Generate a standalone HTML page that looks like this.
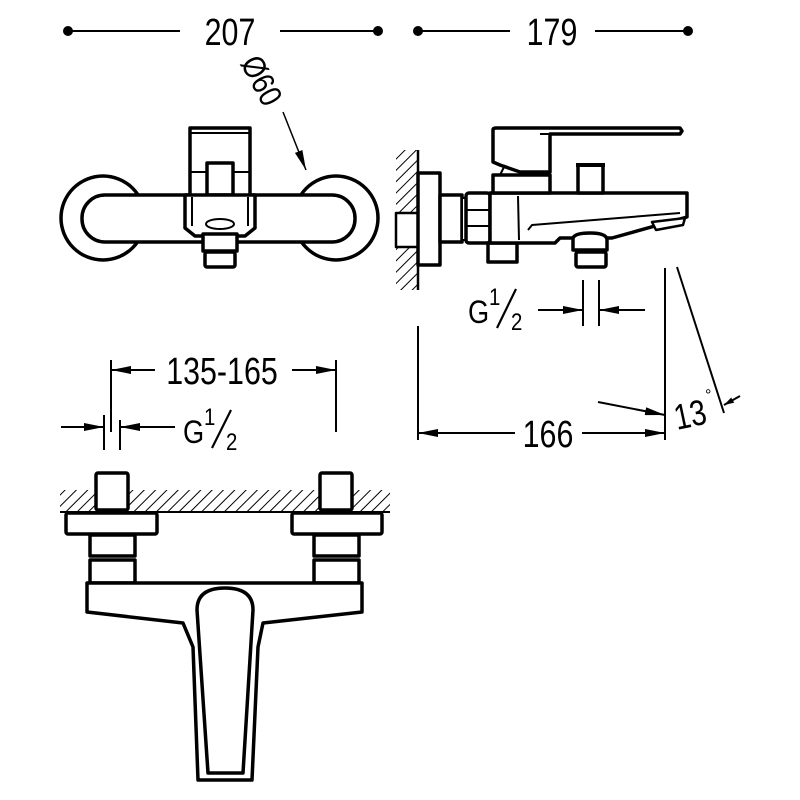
<!DOCTYPE html>
<html><head><meta charset="utf-8"><style>html,body{margin:0;padding:0;background:#fff}svg{display:block}text{font-family:"Liberation Sans",sans-serif;fill:#000}</style></head><body>
<svg width="800" height="800" viewBox="0 0 800 800" xmlns="http://www.w3.org/2000/svg">
<defs>
<pattern id="h" width="8" height="8" patternUnits="userSpaceOnUse" patternTransform="rotate(45)"><line x1="0" y1="0" x2="0" y2="8" stroke="#000" stroke-width="2"/></pattern>
<marker id="a" viewBox="0 0 10 6" refX="10" refY="3" markerWidth="10" markerHeight="6" markerUnits="userSpaceOnUse" orient="auto"><path d="M0 0L10 3L0 6z"/></marker>
<marker id="A" viewBox="0 0 20 8" refX="20" refY="4" markerWidth="20" markerHeight="8" markerUnits="userSpaceOnUse" orient="auto"><path d="M0 0L20 4L0 8z"/></marker>
</defs>
<g stroke="#000" fill="none" stroke-width="2">
<line x1="68" y1="31" x2="180" y2="31"/><line x1="280" y1="31" x2="378" y2="31"/>
<line x1="418" y1="31" x2="510" y2="31"/><line x1="595" y1="31" x2="688" y2="31"/>
<circle cx="68" cy="31" r="4" fill="#000"/><circle cx="378" cy="31" r="4" fill="#000"/>
<circle cx="418" cy="31" r="4" fill="#000"/><circle cx="688" cy="31" r="4" fill="#000"/>
<line x1="283" y1="112" x2="306" y2="170" stroke-width="1.5" marker-end="url(#A)"/>
</g>
<text x="230" y="45" font-size="38" text-anchor="middle" transform="translate(230 0) scale(0.8 1) translate(-230 0)">207</text>
<text x="552" y="45" font-size="38" text-anchor="middle" transform="translate(552 0) scale(0.8 1) translate(-552 0)">179</text>
<text x="0" y="0" font-size="32" transform="translate(240 63) rotate(62) scale(0.85 1)">Ø60</text>

<g stroke="#000" fill="#fff" stroke-width="3.5" stroke-linejoin="round">
<circle cx="103" cy="218" r="42"/><circle cx="336" cy="218" r="42"/>
<rect x="82" y="195" width="273" height="47" rx="23"/>
<rect x="190" y="128" width="60" height="69"/>
<line x1="190" y1="133" x2="250" y2="133" stroke-width="2"/>
<line x1="190" y1="172" x2="250" y2="172" stroke-width="2"/>
<rect x="207" y="163" width="26" height="32"/>
<path d="M185 195H255V228L245 236H195L185 228Z"/>
<path d="M192 197V226M248 197V226" stroke-width="2"/>
<ellipse cx="220" cy="224" rx="14" ry="5" stroke-width="2"/>
<rect x="203" y="234" width="34" height="17"/>
<rect x="205" y="252" width="30" height="15" rx="2"/>
</g>

<rect x="396" y="150" width="22" height="140" fill="url(#h)"/>
<g stroke="#000" fill="#fff" stroke-width="3.5" stroke-linejoin="round">
<line x1="418" y1="150" x2="418" y2="290" stroke-width="2.5"/>
<path d="M417 213H396V247H417" stroke-width="2.5"/>
<rect x="418" y="173" width="22" height="92"/>
<rect x="440" y="195" width="22" height="47"/>
<rect x="462" y="198" width="5" height="42" stroke-width="2"/>
<rect x="466" y="193" width="24" height="50" rx="3"/>
<line x1="467" y1="210" x2="490" y2="210" stroke-width="2"/><line x1="467" y1="226" x2="490" y2="226" stroke-width="2"/>
<rect x="488" y="243" width="29" height="19"/>
<path d="M490 193H687V217L612 238H560L555 243H490Z"/>
<line x1="518" y1="196" x2="519" y2="240" stroke-width="2"/>
<path d="M528 230L532 225L680 213" stroke-width="2"/>
<path d="M652 222L685 218L683 225L656 230Z" stroke-width="2.5"/>
<path d="M573 250V238Q575 233 590 233Q607 233 607 240V250Z"/>
<rect x="576" y="252" width="30" height="15" rx="2"/>
<rect x="578" y="165" width="25" height="28"/>
<line x1="576" y1="165" x2="605" y2="165" stroke-width="4"/>
<rect x="493" y="175" width="57" height="18"/>
<path d="M493 130Q493 128 496 128H680L682 131L680 134H550V172H520L500 165L493 162Z"/>
<line x1="540" y1="134" x2="680" y2="134" stroke-width="2"/>
<path d="M500 175L505 165" stroke-width="2"/>
</g>

<g stroke="#000" fill="none" stroke-width="2">
<line x1="583" y1="280" x2="583" y2="326"/><line x1="599" y1="280" x2="599" y2="326"/>
<line x1="538" y1="310" x2="583" y2="310" marker-end="url(#A)"/>
<line x1="645" y1="310" x2="599" y2="310" marker-end="url(#A)"/>
<line x1="418" y1="326" x2="418" y2="440"/><line x1="665" y1="268" x2="665" y2="440"/>
<line x1="515" y1="433" x2="418" y2="433" marker-end="url(#A)"/>
<line x1="582" y1="433" x2="665" y2="433" marker-end="url(#A)"/>
<line x1="677" y1="267" x2="724" y2="413"/>
<line x1="598" y1="402" x2="665" y2="415" marker-end="url(#A)"/>
<line x1="740" y1="396" x2="724" y2="405" marker-end="url(#a)"/>
</g>
<text x="468" y="323" font-size="32" transform="translate(468 0) scale(0.85 1) translate(-468 0)">G</text>
<text x="489" y="305" font-size="24" transform="translate(489 0) scale(0.85 1) translate(-489 0)">1</text>
<line x1="497" y1="328" x2="516" y2="289" stroke="#000" stroke-width="2.2"/>
<text x="511" y="330" font-size="24" transform="translate(511 0) scale(0.85 1) translate(-511 0)">2</text>
<text x="548" y="447" font-size="38" text-anchor="middle" transform="translate(548 0) scale(0.8 1) translate(-548 0)">166</text>
<text x="0" y="0" font-size="36" transform="translate(677 430) rotate(-12) scale(0.8 1)">13</text>
<text x="705" y="400" font-size="16">°</text>

<g stroke="#000" fill="none" stroke-width="2">
<line x1="111" y1="360" x2="111" y2="432"/><line x1="336" y1="360" x2="336" y2="432"/>
<line x1="155" y1="370" x2="111" y2="370" marker-end="url(#A)"/>
<line x1="292" y1="370" x2="336" y2="370" marker-end="url(#A)"/>
<line x1="104" y1="415" x2="104" y2="450"/><line x1="120" y1="420" x2="120" y2="450"/>
<line x1="61" y1="427" x2="104" y2="427" marker-end="url(#A)"/>
<line x1="175" y1="427" x2="120" y2="427" marker-end="url(#A)"/>
</g>
<text x="222" y="384" font-size="38" text-anchor="middle" transform="translate(222 0) scale(0.8 1) translate(-222 0)">135-165</text>
<text x="183" y="443" font-size="32" transform="translate(183 0) scale(0.85 1) translate(-183 0)">G</text>
<text x="204" y="425" font-size="24" transform="translate(204 0) scale(0.85 1) translate(-204 0)">1</text>
<line x1="212" y1="448" x2="231" y2="410" stroke="#000" stroke-width="2.2"/>
<text x="226" y="450" font-size="24" transform="translate(226 0) scale(0.85 1) translate(-226 0)">2</text>

<rect x="60" y="490" width="330" height="22" fill="url(#h)"/>
<line x1="60" y1="512" x2="390" y2="512" stroke="#000" stroke-width="2"/>
<g stroke="#000" fill="#fff" stroke-width="3.5" stroke-linejoin="round">
<rect x="96" y="473" width="32" height="37" rx="2"/>
<rect x="320" y="473" width="32" height="37" rx="2"/>
<rect x="66" y="513" width="91" height="21" rx="2"/>
<rect x="292" y="513" width="90" height="21" rx="2"/>
<rect x="90" y="535" width="45" height="21"/><rect x="90" y="560" width="45" height="23"/>
<rect x="314" y="535" width="45" height="21"/><rect x="314" y="560" width="45" height="23"/>
<path d="M87 583H362V612L263 623L258 647L252 780H198L193 647L183 623L87 612Z"/>
<path d="M197 610Q197 588 225 588Q253 588 253 610L243 773H208Z"/>
</g>
</svg>
</body></html>
